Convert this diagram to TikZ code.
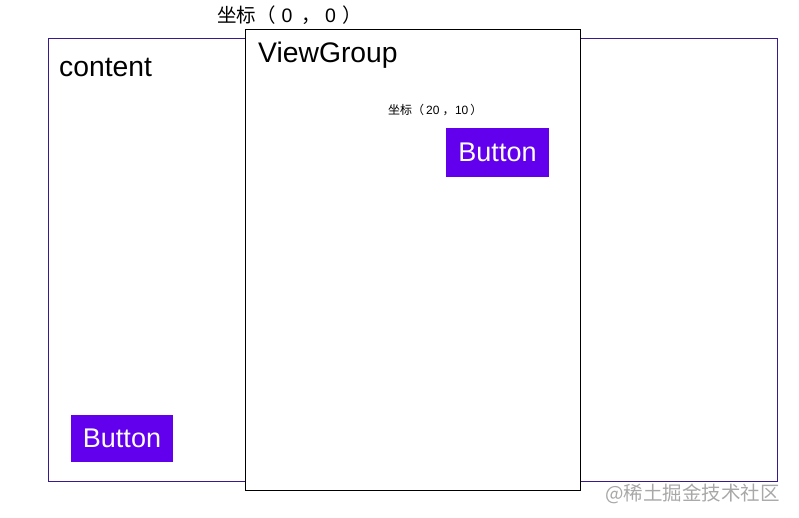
\documentclass[tikz,border=0pt]{standalone}
\usepackage{fontspec}
\setmainfont{Liberation Sans}
\newfontfamily\cjk{Noto Sans CJK SC}
\usetikzlibrary{positioning}
\definecolor{btnpurple}{HTML}{6200EE}
\definecolor{framepurple}{HTML}{3A1890}
\definecolor{markgray}{HTML}{A8A8A8}

\begin{document}
\begin{tikzpicture}[x=1pt,y=-1pt,
		frame/.style={rectangle,draw=framepurple,line width=0.8pt,inner sep=0pt,anchor=north west},
		group/.style={rectangle,draw=black,fill=white,line width=0.8pt,inner sep=0pt,anchor=north west},
		btn/.style={rectangle,fill=btnpurple,text=white,inner sep=0pt,font=\fontsize{27}{27}\selectfont},
		lbl/.style={anchor=base west,inner sep=0pt,font=\fontsize{28.3}{28}\selectfont}]
		\useasboundingbox (0,0) rectangle (799,518);

		% outer content area and the viewgroup on top of it
		\node[frame,minimum width=729pt,minimum height=443pt] (content) at (48,38) {};
		\node[group,minimum width=335pt,minimum height=461pt] (vgroup) at (245,29) {};

		\node[lbl] (contentlbl) at (59,77) {content};
		\node[lbl] (vgrouplbl)  at (258,63) {ViewGroup};

		% coordinate labels
		\node[anchor=base west,inner sep=0pt,font=\fontsize{19.5}{19}\selectfont] (origin) at (217,23)
			{{\cjk 坐标（}\hspace{6pt}0\hspace{9pt}{\cjk ，}\hspace{4pt}0\hspace{7pt}{\cjk ）}};
		\node[anchor=base west,inner sep=0pt,font=\fontsize{12}{12}\selectfont] (coord) at (388,115)
			{{\cjk 坐标（}\hspace{2pt}20\hspace{3pt}{\cjk ，}\hspace{0.5pt}10\hspace{2pt}{\cjk ）}};

		% buttons
		\node[btn,minimum width=103pt,minimum height=49pt] (btninner) at (497.5,152.5) {Button};
		\node[btn,minimum width=102pt,minimum height=47pt] (btnouter) at (122,438.5) {Button};

		\node[anchor=base west,inner sep=0pt,text=markgray,font=\fontsize{19.5}{19.5}\selectfont\cjk] (mark) at (605,500) {@稀土掘金技术社区};
\end{tikzpicture}
\end{document}
